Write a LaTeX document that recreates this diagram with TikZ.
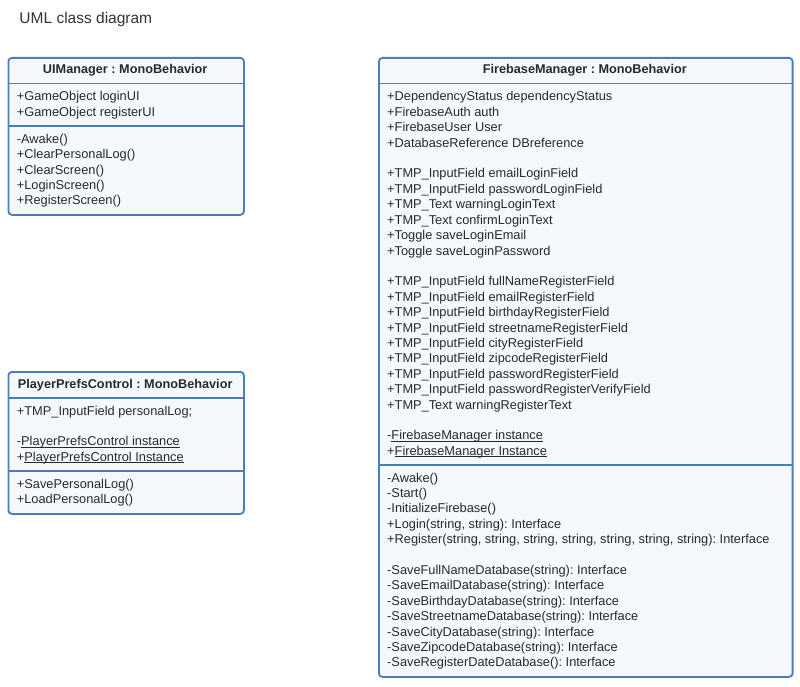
\documentclass[tikz,border=0pt]{standalone}
\usepackage{fontspec}
\setmainfont{Liberation Sans}
\frenchspacing
\definecolor{umlborder}{HTML}{4A7EB9}
\definecolor{umlfill}{HTML}{F5F9FE}
\definecolor{umltext}{HTML}{282828}
\definecolor{titletext}{HTML}{333333}
\newcommand\ulname[1]{\underline{\smash{#1}}}
\begin{document}
\begin{tikzpicture}[x=1pt,y=-1pt,
  classbox/.style={draw=umlborder,fill=umlfill,line width=1.8pt,rounded corners=3.5pt,inner sep=0pt,anchor=north west},
  divider/.style={draw=umlborder,line width=1.8pt},
  member/.style={anchor=base west,inner sep=0pt,text=umltext,font=\fontsize{12.8}{15.4}\selectfont\frenchspacing},
  header/.style={anchor=base,inner sep=0pt,text=umltext,font=\fontsize{12.7}{15.4}\selectfont\bfseries\frenchspacing},
  titlestyle/.style={anchor=base west,inner sep=0pt,text=titletext,font=\fontsize{15.5}{18}\selectfont}]
\useasboundingbox (0,0) rectangle (800,687);
\fill[white] (0,0) rectangle (800,687);

\node[titlestyle] (title) at (19.3,24) {UML class diagram};

% ---------- UIManager ----------
\node[classbox,minimum width=235.5pt,minimum height=157pt] (ui) at (7.5,57) {};
\coordinate (uid1) at (7.5,83.5);
\coordinate (uid2) at (7.5,126);
\draw[divider] (uid1) -- ++(235.5,0);
\draw[divider] (uid2) -- ++(235.5,0);
\node[header] (uih) at (125.2,73.8) {UIManager : MonoBehavior};
\foreach \t [count=\i] in {+GameObject loginUI,+GameObject registerUI}
  \node[member] (uia\i) at (16.7,{101+15.4*(\i-1)}) {\t};
\foreach \t [count=\i] in {-Awake(),+ClearPersonalLog(),+ClearScreen(),+LoginScreen(),+RegisterScreen()}
  \node[member] (uim\i) at (16.7,{143.3+15.4*(\i-1)}) {\t};

% ---------- PlayerPrefsControl ----------
\node[classbox,minimum width=235.5pt,minimum height=142pt] (pp) at (7.5,371) {};
\coordinate (ppd1) at (7.5,397.7);
\coordinate (ppd2) at (7.5,470.7);
\draw[divider] (ppd1) -- ++(235.5,0);
\draw[divider] (ppd2) -- ++(235.5,0);
\node[header] (pph) at (125.2,388) {PlayerPrefsControl : MonoBehavior};
\foreach \t [count=\i] in {+TMP\_InputField personalLog;,{},-\ulname{PlayerPrefsControl instance},+\ulname{PlayerPrefsControl Instance}}
  \node[member] (ppa\i) at (16.7,{415+15.4*(\i-1)}) {\t};
\foreach \t [count=\i] in {+SavePersonalLog(),+LoadPersonalLog()}
  \node[member] (ppm\i) at (16.7,{488+15.4*(\i-1)}) {\t};

% ---------- FirebaseManager ----------
\node[classbox,minimum width=413.7pt,minimum height=619pt] (fb) at (378,57) {};
\coordinate (fbd1) at (378,83.5);
\coordinate (fbd2) at (378,465);
\draw[divider] (fbd1) -- ++(413.7,0);
\draw[divider] (fbd2) -- ++(413.7,0);
\node[header] (fbh) at (584.8,73.8) {FirebaseManager : MonoBehavior};
\foreach \t [count=\i] in {+DependencyStatus dependencyStatus,+FirebaseAuth auth,+FirebaseUser User,+DatabaseReference DBreference,{},
  +TMP\_InputField emailLoginField,+TMP\_InputField passwordLoginField,+TMP\_Text warningLoginText,+TMP\_Text confirmLoginText,+Toggle saveLoginEmail,+Toggle saveLoginPassword,{},
  +TMP\_InputField fullNameRegisterField,+TMP\_InputField emailRegisterField,+TMP\_InputField birthdayRegisterField,+TMP\_InputField streetnameRegisterField,+TMP\_InputField cityRegisterField,+TMP\_InputField zipcodeRegisterField,+TMP\_InputField passwordRegisterField,+TMP\_InputField passwordRegisterVerifyField,+TMP\_Text warningRegisterText,{},
  -\ulname{FirebaseManager instance},+\ulname{FirebaseManager Instance}}
  \node[member] (fba\i) at (387,{101+15.4*(\i-1)}) {\t};
\foreach \t [count=\i] in {-Awake(),-Start(),-InitializeFirebase(),{+Login(string, string): Interface},{+Register(string, string, string, string, string, string, string): Interface},{},
  -SaveFullNameDatabase(string): Interface,-SaveEmailDatabase(string): Interface,-SaveBirthdayDatabase(string): Interface,-SaveStreetnameDatabase(string): Interface,-SaveCityDatabase(string): Interface,-SaveZipcodeDatabase(string): Interface,-SaveRegisterDateDatabase(): Interface}
  \node[member] (fbm\i) at (387,{482+15.4*(\i-1)}) {\t};
\end{tikzpicture}
\end{document}
